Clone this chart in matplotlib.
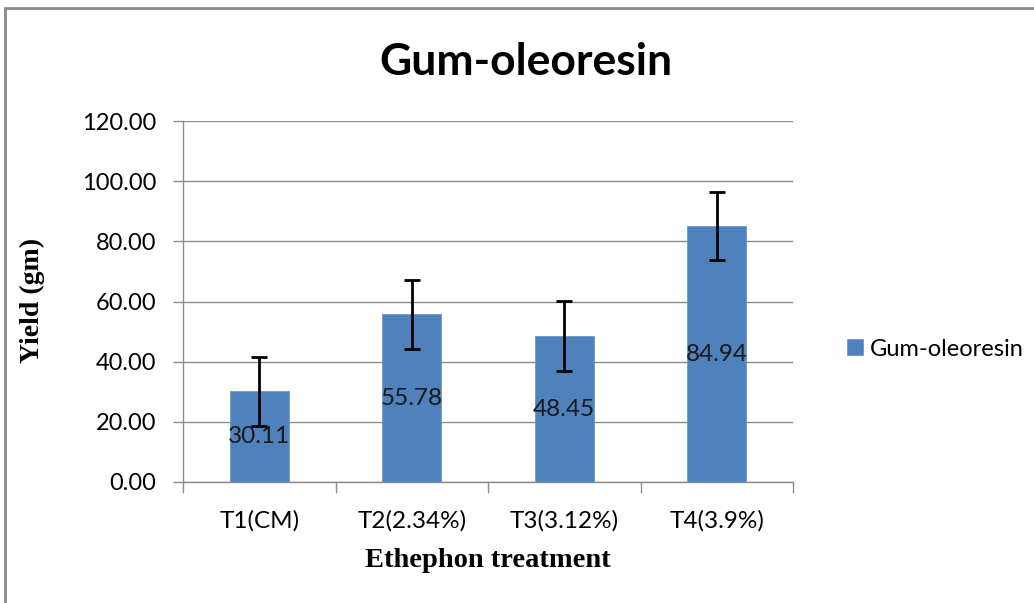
import matplotlib
matplotlib.use("Agg")
import matplotlib.pyplot as plt
from matplotlib.patches import Rectangle
import numpy as np

categories = ["T1(CM)", "T2(2.34%)", "T3(3.12%)", "T4(3.9%)"]
values = [30.11, 55.78, 48.45, 84.94]
errors = [11.5, 11.5, 11.6, 11.3]
yticks = [0, 20, 40, 60, 80, 100, 120]
series_name = "Gum-oleoresin"

bar_color = "#4F81BD"
grid_color = "#8C8C8C"
sans = ["Lato", "DejaVu Sans"]
serif = ["Liberation Serif", "DejaVu Serif"]

fig = plt.figure(figsize=(10.34, 6.03), dpi=100)
ax = fig.add_axes([183/1034, 1 - 482/603, (793-183)/1034, (482-121)/603])

x = np.arange(len(categories))
bars = ax.bar(x, values, width=0.39, color=bar_color, edgecolor="#6C97CB",
              linewidth=0.6, label=series_name, zorder=3)
ax.errorbar(x, values, yerr=errors, fmt="none", ecolor="black", elinewidth=2,
            capsize=5.5, capthick=2, zorder=4)

for xi, v in zip(x, values):
    ax.text(xi, v / 2, f"{v:.2f}", ha="center", va="center", fontsize=17.5,
            family=sans, color="#1a1a1a", zorder=5)

ax.set_xlim(-0.5, len(categories) - 0.5)
ax.set_ylim(0, 120)
ax.set_yticks(yticks)
ax.set_yticklabels([f"{t:.2f}" for t in yticks], family=sans, fontsize=17)
ax.yaxis.grid(True, color=grid_color, linewidth=1, zorder=0)
ax.set_axisbelow(True)

ax.set_xticks(x)
ax.set_xticklabels(categories, family=sans, fontsize=17.5)
ax.tick_params(axis="x", length=0, pad=20)
ax.set_xticks(np.arange(-0.5, len(categories)), minor=True)
ax.tick_params(axis="x", which="minor", length=8, color=grid_color, width=1)
ax.tick_params(axis="y", length=7, color=grid_color, width=1, pad=12)

for s in ["top", "right"]:
    ax.spines[s].set_visible(False)
for s in ["left", "bottom"]:
    ax.spines[s].set_color(grid_color)
    ax.spines[s].set_linewidth(1)

ax.set_xlabel("Ethephon treatment", family=serif, fontsize=20.5, fontweight="bold",
              labelpad=12)
ax.set_ylabel("Yield (gm)", family=serif, fontsize=20, fontweight="bold",
              va="center")
ax.yaxis.set_label_coords(32/1034, 1 - 300/603, transform=fig.transFigure)

fig.text(526/1034, 1 - 62/603, "Gum-oleoresin", ha="center", va="center",
         family=sans, fontsize=32, fontweight="bold")

leg = fig.legend(handles=[bars], labels=[series_name], loc="center left",
                 bbox_to_anchor=(826/1034, 1 - 349/603), frameon=False,
                 prop={"family": sans, "size": 17}, handlelength=0.65,
                 handleheight=0.65, handletextpad=0.3)

fig.patches.append(Rectangle((5/1034, -0.1), 1.2, 1 - 8/603 + 0.1,
                             transform=fig.transFigure, fill=False,
                             edgecolor="#8A8A8A", linewidth=2))

fig.savefig("out.png", dpi=100)
